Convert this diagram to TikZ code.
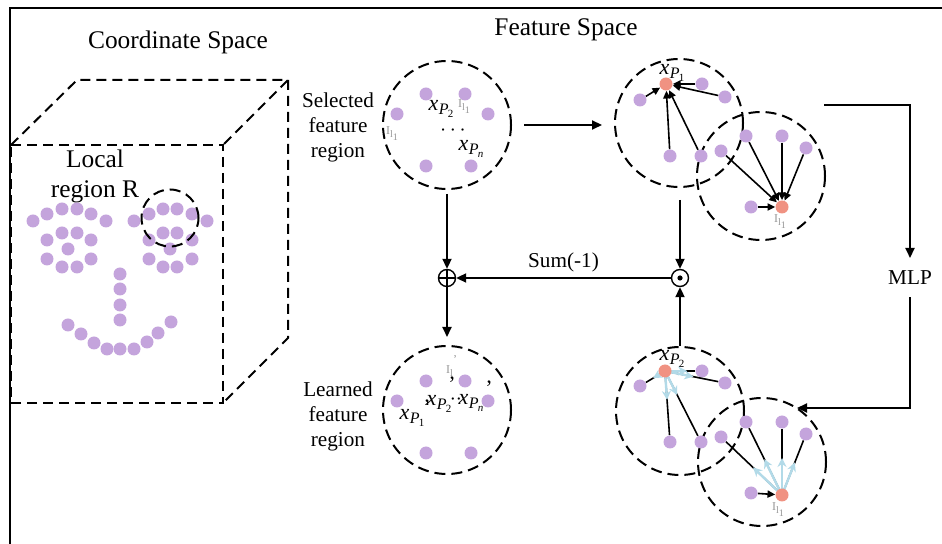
\documentclass[tikz,border=0pt]{standalone}
\usepackage{fontspec}
\setmainfont{Liberation Serif}
\usetikzlibrary{arrows.meta,calc}
\definecolor{dotc}{RGB}{196,164,220}
\definecolor{redc}{RGB}{240,146,130}
\definecolor{bluec}{RGB}{178,218,232}
\definecolor{artc}{RGB}{150,150,150}
\newcommand{\xP}[1]{\textit{x}\kern0.2pt\raisebox{-0.45ex}{\fontsize{8}{9}\selectfont\textit{P}\kern-0.3pt\raisebox{-0.4ex}{\fontsize{5.5}{6}\selectfont #1}}}
\begin{document}
\begin{tikzpicture}[x=0.5pt,y=-0.5pt,
  fdot/.style={circle,fill=dotc,inner sep=0pt,minimum size=6.5pt},
  rdot/.style={circle,fill=redc,inner sep=0pt,minimum size=6.5pt},
  region/.style={circle,draw,line width=1pt,dash pattern=on 5.5pt off 3pt,inner sep=0pt,minimum size=64pt},
  cube/.style={line width=1pt,dash pattern=on 5pt off 3pt},
  conn/.style={line width=1pt,-{Triangle[length=5pt,width=4.5pt]}},
  small/.style={line width=0.8pt,-{Triangle[length=3.8pt,width=3.6pt]}},
  plain/.style={line width=0.8pt},
  blue/.style={line width=1.2pt,draw=bluec,-{Stealth[length=4.5pt,width=4.5pt]}},
  title/.style={font=\fontsize{12.7}{15}\selectfont},
  lab/.style={font=\fontsize{10.6}{12.5}\selectfont,align=center},
  xl/.style={font=\fontsize{11}{12}\selectfont,inner sep=0pt},
  art/.style={text=artc,font=\fontsize{6}{7}\selectfont,inner sep=0pt},
  op/.style={circle,draw,line width=0.7pt,inner sep=0pt,minimum size=8.5pt}]
\useasboundingbox (0,0) rectangle (942,544);
% frame
\draw[line width=1pt] (10,544) -- (10,8.5) -- (942,8.5);
% titles
\node[title] (tcs) at (178,42) {Coordinate Space};
\node[title] (tfs) at (566,30) {Feature Space};
% cube
\coordinate (f1) at (11,145); \coordinate (f2) at (223,145);
\coordinate (f3) at (223,403); \coordinate (f4) at (11,403);
\coordinate (b1) at (77,80); \coordinate (b2) at (288,80); \coordinate (b3) at (288,338);
\draw[cube] (f1) -- (f2) -- (f3) -- (f4) -- cycle;
\draw[cube] (f1) -- (b1) -- (b2) -- (f2);
\draw[cube] (b2) -- (b3) -- (f3);
\node[title,align=center] (loc) at (95,176) {Local\\region R};
% face dots
\foreach \x/\y in {33/221,47/214,62/209,77/209,91/214,106/221,62/233,77/233,47/240,91/240,68/249,47/259,91/259,62/267,77/267,
  134/221,149/214,163/209,177/209,192/214,207/221,163/233,177/233,149/240,192/240,170/249,149/259,192/259,163/267,177/267,
  120/274,120/289,120/305,120/320,
  68/325,81/334,94/343,107/349,120/349,134/349,147/342,158/333,171/322}
  \node[fdot] at (\x,\y) {};
\node[region,minimum size=28.5pt] (lr) at (170,218) {};
% selected feature region
\node[region] (sel) at (447,125) {};
\node[lab] (tsel) at (338,127) {Selected\\feature\\region};
\foreach \n/\x/\y in {s1/426/94,s2/465/94,s3/397/114,s4/488/114,s5/426/166,s6/471/166}
  \node[fdot] (\n) at (\x,\y) {};
\node[xl] (sx2) at (441,109) {\xP{2}};
\node[xl] (sdots) at (453,131) {$\cdots$};
\node[xl] (sxn) at (471,149) {\xP{\textit{n}}};
\node[art] (sa1) at (393,134) {I\textsubscript{l\textsubscript{1}}};
\node[art] (sa2) at (465,107) {I\textsubscript{l\textsubscript{1}}};
% learned feature region
\node[region] (L) at (447,410) {};
\node[lab] (tL) at (338,416) {Learned\\feature\\region};
\foreach \n/\x/\y in {l1/426/381,l2/465/381,l3/397/401,l4/488/401,l5/426/453,l6/471/453}
  \node[fdot] (\n) at (\x,\y) {};
\node[xl] (lx1) at (412,418) {\xP{1}};
\node[xl] (lx2) at (439,404) {\xP{2}};
\node[xl] (ldots) at (456,400) {$\cdot\cdot$};
\node[xl] (lxn) at (471,403) {\xP{\textit{n}}};
\node[xl] (lp1) at (427,407) {'};
\node[xl] (lp2) at (452,384) {'};
\node[xl] (lp3) at (489,388) {'};
\node[art] (la1) at (450,371) {I\textsubscript{l}};
\node[art] (la2) at (455,360) {'};
% top-right group
\node[region] (A) at (679,123) {};
\node[region] (B) at (761,176) {};
\foreach \n/\x/\y in {a1/640/100,a2/702/84,a3/725/97,a4/670/156,a5/701/156,
  b1/746/136,b2/782/136,b3/806/148,b4/721/151,b5/751/207}
  \node[fdot] (\n) at (\x,\y) {};
\node[rdot] (rA) at (666,84) {};
\node[rdot] (rB) at (782,207) {};
\node[xl] (xa) at (672,73) {\xP{1}};
\node[art] (ba) at (781,222) {I\textsubscript{l\textsubscript{1}}};
\foreach \n in {a1,a2,a3,a4,a5} \draw[small] (\n) -- (rA);
\foreach \n in {b1,b2,b3,b4,b5} \draw[small] (\n) -- (rB);
% bottom-right group
\node[region] (C) at (680,411) {};
\node[region] (D) at (762,462) {};
\foreach \n/\x/\y in {c1/640/386,c2/702/371,c3/725/383,c4/670/442,c5/701/442,
  d1/746/422,d2/782/422,d3/806/434,d4/721/437,d5/751/493}
  \node[fdot] (\n) at (\x,\y) {};
\coordinate (rCc) at (665,371);
\coordinate (rDc) at (782,495);
\foreach \n in {c1,c2,c3,c4,c5} \draw[plain] (\n) -- (rCc);
\foreach \n in {d1,d2,d3,d4} \draw[plain] (\n) -- (rDc);
\draw[blue] (rCc) -- ($(rCc)!7pt!(c1)$);
\draw[blue] (rCc) -- ($(rCc)!14.5pt!(c4)$);
\draw[blue] (rCc) -- ($(rCc)!13.5pt!(c5)$);
\draw[blue] (rCc) -- ($(rCc)!11pt!(c2)$);
\draw[blue] (rCc) -- ($(rCc)!14.5pt!(c3)$);
\draw[blue] (rDc) -- ($(rDc)!20pt!(d4)$);
\draw[blue] (rDc) -- ($(rDc)!20pt!(d1)$);
\draw[blue] (rDc) -- ($(rDc)!18.5pt!(d2)$);
\draw[blue] (rDc) -- ($(rDc)!17.5pt!(d3)$);
\node[rdot] (rC) at (rCc) {};
\node[rdot] (rD) at (rDc) {};
\draw[small] (d5) -- (rD);
\node[xl] (xc) at (672,359) {\xP{2}};
\node[art] (da) at (779,510) {I\textsubscript{l\textsubscript{1}}};
% operators
\node[op] (plus) at (447,278) {};
\draw[line width=0.7pt] (plus.north) -- (plus.south) (plus.west) -- (plus.east);
\node[op] (odot) at (680,278) {};
\fill (odot.center) circle (1.3pt);
\node[lab,inner sep=1pt] (mlp) at (910,278) {MLP};
% connectors
\draw[conn,shorten <=6pt,shorten >=6pt] (sel.east) -- (A.west |- sel.east);
\draw[conn,shorten <=2pt] (sel.south) -- (plus.north);
\draw[conn,shorten <=6pt] (odot |- A.south) -- (odot.north);
\draw[conn] (odot |- C.north) -- (odot.south);
\draw[conn] (odot.west) -- node[lab,above,pos=0.5,yshift=-1pt] {Sum(-1)} (plus.east);
\draw[conn,shorten >=4pt] (plus.south) -- (L.north);
\coordinate (mstart) at (824,105);
\coordinate (min) at (910,258);
\coordinate (dIn) at (797,408);
\draw[conn] (mstart) -| (min);
\draw[conn,shorten <=5pt] (mlp.south) |- (dIn);
\end{tikzpicture}
\end{document}
